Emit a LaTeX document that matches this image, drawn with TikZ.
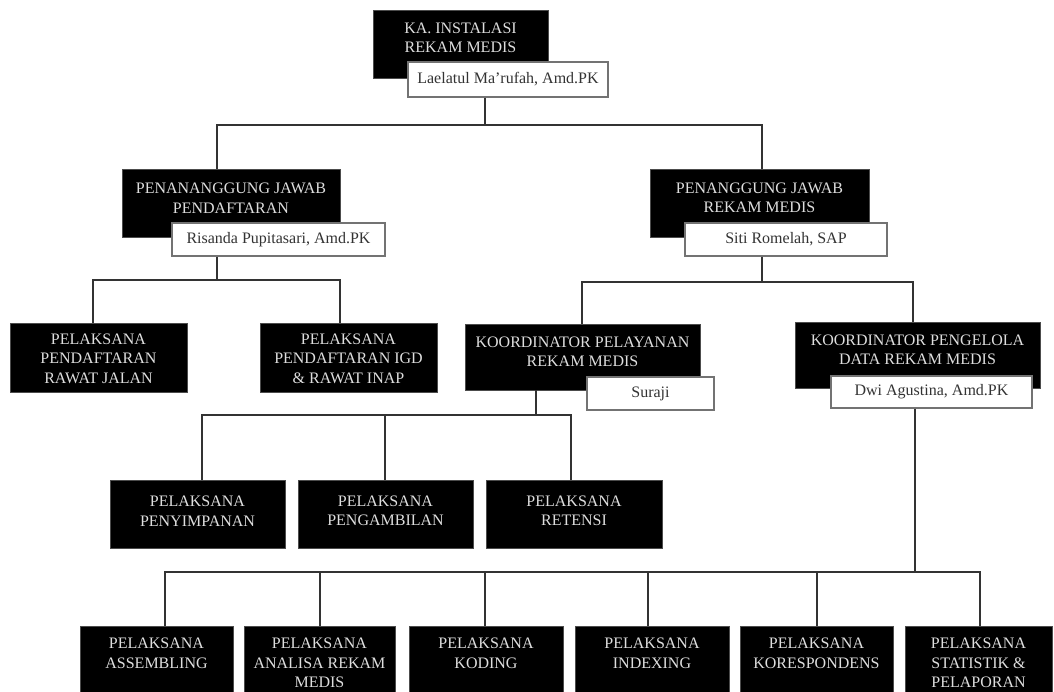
\documentclass[tikz,border=0pt]{standalone}
\usepackage{fontspec}
\setmainfont{Liberation Serif}
\begin{document}
\begin{tikzpicture}[x=1pt,y=-1pt,
  blk/.style={fill=black, draw=black!70, line width=0.8pt, inner sep=0pt},
  nm/.style={fill=white, draw=black!55, line width=1.2pt, inner sep=0pt, text=black!80, font=\fontsize{16}{18}\selectfont},
  ttl/.style={text=black!13, align=center, inner sep=0pt, font=\fontsize{16}{19.5}\selectfont},
  lnk/.style={draw=black!80, line width=1.5pt}]
\useasboundingbox (0,0) rectangle (1054,691);
\clip (0,0) rectangle (1054,691);
\fill[white] (0,0) rectangle (1054,691);

% junction coordinates
\coordinate (b1m) at (485,125);
\coordinate (b1l) at (217,125);
\coordinate (b1r) at (762,125);
\coordinate (b2m) at (217,280);
\coordinate (b2l) at (93,280);
\coordinate (b2r) at (340,280);
\coordinate (b3m) at (762,282);
\coordinate (b3l) at (582,282);
\coordinate (b3r) at (913,282);
\coordinate (b4m) at (536,415);
\coordinate (b4a) at (202,415);
\coordinate (b4b) at (385,415);
\coordinate (b4c) at (571,415);
\coordinate (b5m) at (915,572);
\coordinate (b5a) at (165,572);
\coordinate (b5b) at (320,572);
\coordinate (b5c) at (485,572);
\coordinate (b5d) at (648,572);
\coordinate (b5e) at (817,572);
\coordinate (b5f) at (980,572);

% boxes
\node[blk, minimum width=175pt, minimum height=68pt] (ka) at (460.5,44) {};
\node[blk, minimum width=218pt, minimum height=68pt] (pjp) at (231,203) {};
\node[blk, minimum width=219pt, minimum height=68pt] (pjr) at (759.5,203) {};
\node[blk, minimum width=177pt, minimum height=69pt] (prj) at (98.5,357.5) {};
\node[blk, minimum width=177pt, minimum height=69pt] (pigd) at (348.5,357.5) {};
\node[blk, minimum width=235pt, minimum height=66pt] (kpl) at (582.5,357) {};
\node[blk, minimum width=245pt, minimum height=66pt] (kpd) at (917.5,355) {};
\node[blk, minimum width=175pt, minimum height=68pt] (psp) at (197.5,514) {};
\node[blk, minimum width=175pt, minimum height=68pt] (pgb) at (385.5,514) {};
\node[blk, minimum width=176pt, minimum height=68pt] (prt) at (574,514) {};
\node[blk, minimum width=153pt, minimum height=90pt] (pas) at (156.5,671) {};
\node[blk, minimum width=151pt, minimum height=90pt] (pan) at (319.5,671) {};
\node[blk, minimum width=154pt, minimum height=90pt] (pko) at (486,671) {};
\node[blk, minimum width=154pt, minimum height=90pt] (pin) at (652,671) {};
\node[blk, minimum width=153pt, minimum height=90pt] (pkr) at (816.5,671) {};
\node[blk, minimum width=147pt, minimum height=90pt] (pst) at (978.5,671) {};

% name boxes
\node[nm, minimum width=200pt, minimum height=35pt] (kaN) at (508,79.5) {Laelatul Ma’rufah, Amd.PK};
\node[nm, minimum width=213pt, minimum height=33pt] (pjpN) at (278.5,239.5) {Risanda Pupitasari, Amd.PK};
\node[nm, minimum width=202pt, minimum height=33pt] (pjrN) at (786,239.5) {Siti Romelah, SAP};
\node[nm, minimum width=127pt, minimum height=33pt] (kplN) at (650.5,393.5) {Suraji};
\node[nm, minimum width=201pt, minimum height=32pt] (kpdN) at (931.5,392) {Dwi Agustina, Amd.PK};

% connectors
\draw[lnk] (kaN.south -| b1m) -- (b1m);
\draw[lnk] (pjp.north -| b1l) -- (b1l) -- (b1r) -- (pjr.north -| b1r);
\draw[lnk] (pjpN.south -| b2m) -- (b2m);
\draw[lnk] (prj.north -| b2l) -- (b2l) -- (b2r) -- (pigd.north -| b2r);
\draw[lnk] (pjrN.south -| b3m) -- (b3m);
\draw[lnk] (kpl.north -| b3l) -- (b3l) -- (b3r) -- (kpd.north -| b3r);
\draw[lnk] (kpl.south -| b4m) -- (b4m);
\draw[lnk] (psp.north -| b4a) -- (b4a) -- (b4c) -- (prt.north -| b4c);
\draw[lnk] (b4b) -- (pgb.north -| b4b);
\draw[lnk] (kpdN.south -| b5m) -- (b5m);
\draw[lnk] (pas.north -| b5a) -- (b5a) -- (b5f) -- (pst.north -| b5f);
\draw[lnk] (b5b) -- (pan.north -| b5b);
\draw[lnk] (b5c) -- (pko.north -| b5c);
\draw[lnk] (b5d) -- (pin.north -| b5d);
\draw[lnk] (b5e) -- (pkr.north -| b5e);

% titles
\node[ttl] (kaT) at ([yshift=6pt]ka.center) {KA. INSTALASI\\REKAM MEDIS};
\node[ttl] (pjpT) at ([yshift=5pt]pjp.center) {PENANANGGUNG JAWAB\\PENDAFTARAN};
\node[ttl] (pjrT) at ([yshift=5pt]pjr.center) {PENANGGUNG JAWAB\\REKAM MEDIS};
\node[ttl] (prjT) at ([yshift=-1pt]prj.center) {PELAKSANA\\PENDAFTARAN\\RAWAT JALAN};
\node[ttl] (pigdT) at ([yshift=-1pt]pigd.center) {PELAKSANA\\PENDAFTARAN IGD\\\& RAWAT INAP};
\node[ttl] (kplT) at ([yshift=5pt]kpl.center) {KOORDINATOR PELAYANAN\\REKAM MEDIS};
\node[ttl] (kpdT) at ([yshift=5pt]kpd.center) {KOORDINATOR PENGELOLA\\DATA REKAM MEDIS};
\node[ttl] (pspT) at ([yshift=3pt]psp.center) {PELAKSANA\\PENYIMPANAN};
\node[ttl] (pgbT) at ([yshift=3pt]pgb.center) {PELAKSANA\\PENGAMBILAN};
\node[ttl] (prtT) at ([yshift=3pt]prt.center) {PELAKSANA\\RETENSI};
\node[ttl, anchor=north] (pasT) at (pas.north |- 0,638) {PELAKSANA\\ASSEMBLING};
\node[ttl, anchor=north] (panT) at (pan.north |- 0,638) {PELAKSANA\\ANALISA REKAM\\MEDIS};
\node[ttl, anchor=north] (pkoT) at (pko.north |- 0,638) {PELAKSANA\\KODING};
\node[ttl, anchor=north] (pinT) at (pin.north |- 0,638) {PELAKSANA\\INDEXING};
\node[ttl, anchor=north] (pkrT) at (pkr.north |- 0,638) {PELAKSANA\\KORESPONDENS};
\node[ttl, anchor=north] (pstT) at (pst.north |- 0,638) {PELAKSANA\\STATISTIK \&\\PELAPORAN};
\end{tikzpicture}
\end{document}
